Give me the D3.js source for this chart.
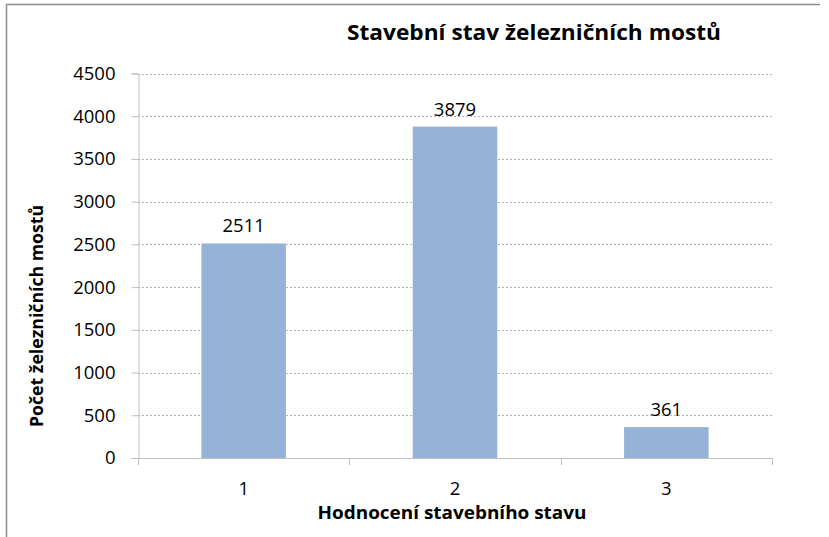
<!DOCTYPE html>
<html>
<head>
<meta charset="utf-8">
<script src="https://cdn.jsdelivr.net/npm/d3@7"></script>
<style>
  body { margin: 0; background: #fff; }
  text { font-family: "Open Sans", sans-serif; fill: #000; }
</style>
</head>
<body>
<div id="chart"></div>
<script>
// chart data
const categories = ["1", "2", "3"];
const counts = [2511, 3879, 361];
const yTicks = [0, 500, 1000, 1500, 2000, 2500, 3000, 3500, 4000, 4500];

const chartTitle = "Stavební stav železničních mostů";
const xTitle = "Hodnocení stavebního stavu";
const yTitle = "Počet železničních mostů";

const width = 829;
const height = 537;
const margin = {left: 138, right: 57, top: 73.5, bottom: 79};

const svg = d3.select("#chart")
  .append("svg")
  .attr("width", width)
  .attr("height", height);

// outer frame (top and left edges are visible)
svg.append("path")
  .attr("d", "M6.5,545 V4.5 H820")
  .attr("fill", "none")
  .attr("stroke", "#8c8c8c")
  .attr("stroke-width", 1.5);

const x = d3.scaleBand()
  .domain(categories)
  .range([margin.left, width - margin.right])
  .paddingInner(0.6)
  .paddingOuter(0.3);

const y = d3.scaleLinear()
  .domain([0, 4500])
  .range([height - margin.bottom, margin.top]);

// gridlines
svg.append("g")
  .selectAll("line")
  .data(yTicks.filter(d => d > 0))
  .enter()
  .append("line")
  .attr("x1", margin.left)
  .attr("x2", width - margin.right)
  .attr("y1", d => Math.round(y(d)) + 0.5)
  .attr("y2", d => Math.round(y(d)) + 0.5)
  .attr("stroke", "#b3b3b3")
  .attr("stroke-dasharray", "2,2");

// y axis
const yAxis = svg.append("g")
  .attr("transform", `translate(${margin.left + 0.5},0)`)
  .call(d3.axisLeft(y).tickValues(yTicks).tickFormat(d3.format("d")).tickSize(7).tickPadding(16));
yAxis.select(".domain").attr("stroke", "#bfbfbf");
yAxis.selectAll(".tick line").attr("stroke", "#bfbfbf");
yAxis.selectAll("text")
  .attr("font-size", "18.5px")
  .attr("font-family", "Open Sans")
  .attr("fill", "#000");

// bars
svg.selectAll(".bar")
  .data(counts)
  .enter()
  .append("rect")
  .attr("class", "bar")
  .attr("x", (d, i) => x(categories[i]))
  .attr("y", d => y(d))
  .attr("width", x.bandwidth())
  .attr("height", d => y(0) - y(d))
  .attr("fill", "#95b3d7");

// value labels
svg.selectAll(".val")
  .data(counts)
  .enter()
  .append("text")
  .attr("class", "val")
  .attr("x", (d, i) => x(categories[i]) + x.bandwidth() / 2)
  .attr("y", d => y(d) - 11)
  .attr("text-anchor", "middle")
  .attr("font-size", "18.5px")
  .text(d => d);

// x axis
const step = x.step();
const xEdges = [margin.left, margin.left + step, margin.left + 2 * step, width - margin.right];
const xAxis = svg.append("g");
xAxis.append("line")
  .attr("x1", margin.left)
  .attr("x2", width - margin.right)
  .attr("y1", Math.round(y(0)) + 0.5)
  .attr("y2", Math.round(y(0)) + 0.5)
  .attr("stroke", "#bfbfbf");
xAxis.selectAll(".xtick")
  .data(xEdges)
  .enter()
  .append("line")
  .attr("x1", d => Math.round(d) + 0.5)
  .attr("x2", d => Math.round(d) + 0.5)
  .attr("y1", y(0))
  .attr("y2", y(0) + 7)
  .attr("stroke", "#bfbfbf");
xAxis.selectAll(".xlab")
  .data(categories)
  .enter()
  .append("text")
  .attr("x", d => x(d) + x.bandwidth() / 2)
  .attr("y", 495)
  .attr("text-anchor", "middle")
  .attr("font-size", "18.5px")
  .text(d => d);

// titles
svg.append("text")
  .attr("x", 534)
  .attr("y", 40)
  .attr("text-anchor", "middle")
  .attr("font-size", "21px")
  .attr("font-weight", "bold")
  .attr("textLength", 374)
  .attr("lengthAdjust", "spacingAndGlyphs")
  .text(chartTitle);

svg.append("text")
  .attr("x", 452)
  .attr("y", 519)
  .attr("text-anchor", "middle")
  .attr("font-size", "17px")
  .attr("font-weight", "bold")
  .attr("textLength", 269)
  .attr("lengthAdjust", "spacingAndGlyphs")
  .text(xTitle);

svg.append("text")
  .attr("transform", "translate(43,316) rotate(-90)")
  .attr("text-anchor", "middle")
  .attr("font-size", "17px")
  .attr("font-weight", "bold")
  .attr("textLength", 222)
  .attr("lengthAdjust", "spacingAndGlyphs")
  .text(yTitle);
</script>
</body>
</html>
